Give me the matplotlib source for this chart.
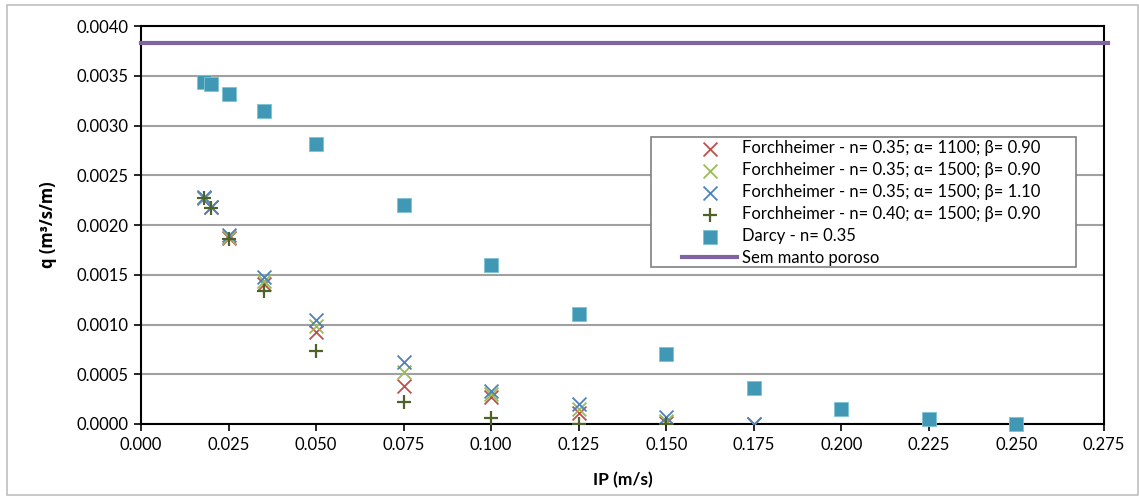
import matplotlib
matplotlib.use('Agg')
import matplotlib.pyplot as plt
import numpy as np
from matplotlib.patches import Rectangle
from matplotlib.ticker import FormatStrFormatter, MultipleLocator

plt.rcParams['font.family'] = ['Lato', 'DejaVu Sans']

# Data
ip_f = [0.018, 0.020, 0.025, 0.035, 0.050, 0.075, 0.100, 0.125, 0.150, 0.175]
q_f1 = [0.00227, 0.00218, 0.00187, 0.00141, 0.00092, 0.00038, 0.00027, 0.00011, 0.00001, 0.0]  # n=0.35 a=1100 b=0.90
q_f2 = [0.00227, 0.00218, 0.00188, 0.00144, 0.00098, 0.00052, 0.00030, 0.00015, 0.00003, 0.0]  # n=0.35 a=1500 b=0.90
q_f3 = [0.00228, 0.00218, 0.00190, 0.00148, 0.00105, 0.00062, 0.00033, 0.00020, 0.00007, 0.0]  # n=0.35 a=1500 b=1.10
ip_f4 = [0.018, 0.020, 0.025, 0.035, 0.050, 0.075, 0.100, 0.125, 0.150]
q_f4 = [0.00227, 0.00217, 0.00186, 0.00134, 0.00073, 0.00022, 0.00006, 0.0, 0.0]  # n=0.40 a=1500 b=0.90

ip_d = [0.018, 0.020, 0.025, 0.035, 0.050, 0.075, 0.100, 0.125, 0.150, 0.175, 0.200, 0.225, 0.250]
q_d = [0.00344, 0.00342, 0.00332, 0.00315, 0.00281, 0.00220, 0.00160, 0.00111, 0.00070, 0.00036, 0.00015, 0.00005, 0.0]

q_sem = 0.00383

labels = ['Forchheimer - n= 0.35; α= 1100; β= 0.90',
          'Forchheimer - n= 0.35; α= 1500; β= 0.90',
          'Forchheimer - n= 0.35; α= 1500; β= 1.10',
          'Forchheimer - n= 0.40; α= 1500; β= 0.90',
          'Darcy - n= 0.35',
          'Sem manto poroso']

W, H = 1139, 496
fig = plt.figure(figsize=(W/100, H/100), dpi=100)
ax = fig.add_axes([141/W, 1-424/H, (1104-141)/W, (424-26)/H])

# outer chart border
fig.patches.append(Rectangle((7/W, 1/H), 1-8/W, 1-6/H, transform=fig.transFigure,
                             fill=False, edgecolor='#BFBFBF', linewidth=1.2))

ax.scatter(ip_f, q_f1, marker='x', s=100, color='#C0504D', linewidths=1.3, label=labels[0], zorder=3)
ax.scatter(ip_f, q_f2, marker='x', s=100, color='#9BBB59', linewidths=1.3, label=labels[1], zorder=3)
ax.scatter(ip_f, q_f3, marker='x', s=100, color='#4F81BD', linewidths=1.3, label=labels[2], zorder=3)
ax.scatter(ip_f4, q_f4, marker='+', s=110, color='#4F6228', linewidths=1.6, label=labels[3], zorder=3)
ax.scatter(ip_d, q_d, marker='s', s=110, color='#4198B5', edgecolors='#7CC3D8', linewidths=0.6,
           label=labels[4], zorder=3, clip_on=False)
ax.axhline(q_sem, xmin=0, xmax=1.004, color='#8064A2', linewidth=3, label=labels[5], clip_on=False, zorder=4)

ax.set_xlim(0, 0.275)
ax.set_ylim(0, 0.004)
ax.xaxis.set_major_locator(MultipleLocator(0.025))
ax.yaxis.set_major_locator(MultipleLocator(0.0005))
ax.xaxis.set_major_formatter(FormatStrFormatter('%.3f'))
ax.yaxis.set_major_formatter(FormatStrFormatter('%.4f'))
ax.grid(axis='y', color='#A0A0A0', linewidth=1.5)
ax.set_axisbelow(True)
for s in ax.spines.values():
    s.set_color('black')
    s.set_linewidth(1.5)
ax.tick_params(direction='out', length=5, width=1.2, labelsize=12, colors='black', pad=4)

ax.set_xlabel('IP (m/s)', fontsize=12.5, fontweight='bold', labelpad=14)
ax.set_ylabel('q (m³/s/m)', fontsize=12, fontweight='bold', labelpad=14, family=['Open Sans'])

# legend without its own frame; the box is drawn separately
leg_box = Rectangle((651/W, 1-267/H), (1076-651)/W, 130/H, transform=fig.transFigure,
                    facecolor='white', edgecolor='#808080', linewidth=1.2, zorder=5, clip_on=False)
ax.add_patch(leg_box)
leg = ax.legend(loc='upper left', bbox_to_anchor=(682/W, 1-140/H), bbox_transform=fig.transFigure,
                borderaxespad=0, frameon=False, fontsize=12, handlelength=3.3,
                handletextpad=0.3, labelspacing=0.36, borderpad=0, scatterpoints=1)
leg.set_zorder(6)

fig.savefig('out.png', dpi=100)
